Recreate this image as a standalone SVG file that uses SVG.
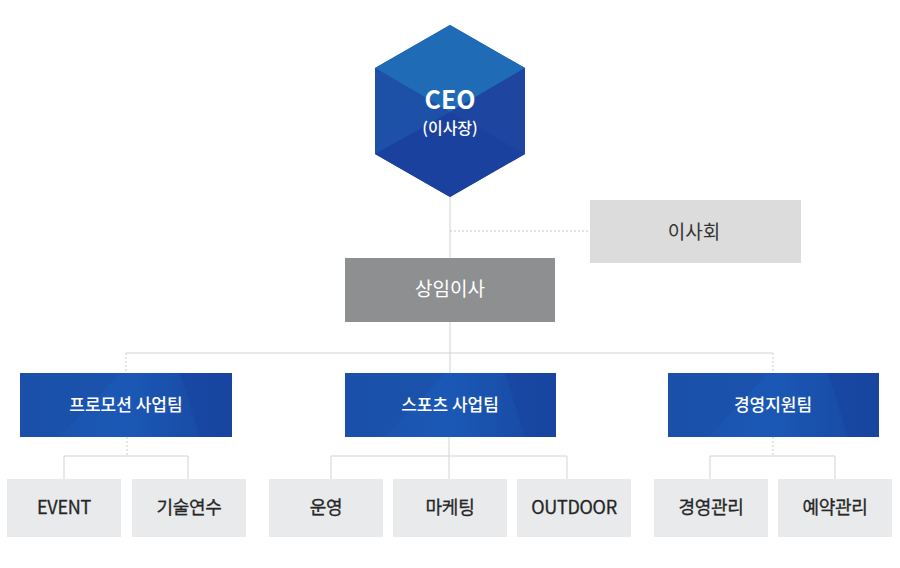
<svg xmlns="http://www.w3.org/2000/svg" width="900" height="568" viewBox="0 0 900 568">
<style>
.ln{stroke:#d2d3d5;stroke-width:1;fill:none}
.dt{stroke:#c9cacc;stroke-width:1;fill:none;stroke-dasharray:2 2}
.sub rect{fill:#e9eaec}
.sub text{font-family:"Noto Sans CJK KR","Noto Sans",sans-serif;font-size:18px;font-weight:normal;fill:#262626;text-anchor:middle;stroke:#262626;stroke-width:0.3px;letter-spacing:-0.3px}
.team text{font-family:"Noto Sans CJK KR","Noto Sans",sans-serif;font-size:17px;font-weight:500;fill:#fff;text-anchor:middle}
.gray text{font-family:"Noto Sans CJK KR","Noto Sans",sans-serif;font-size:19px;font-weight:normal;text-anchor:middle}
</style>
<defs>
<linearGradient id="tg" x1="0" y1="0" x2="1" y2="0">
<stop offset="0" stop-color="#1a52ac"/>
<stop offset="0.5" stop-color="#1b58b5"/>
<stop offset="1" stop-color="#1747a0"/>
</linearGradient>
</defs>
<g id="connectors">
<line class="ln" x1="450" y1="197" x2="450" y2="258"/>
<line class="dt" x1="450" y1="231" x2="590" y2="231"/>
<line class="ln" x1="450" y1="322" x2="450" y2="373"/>
<line class="ln" x1="126" y1="353" x2="773" y2="353"/>
<line class="dt" x1="126" y1="353" x2="126" y2="373"/>
<line class="dt" x1="773" y1="353" x2="773" y2="373"/>
<line class="dt" x1="127" y1="437" x2="127" y2="456"/>
<polyline class="ln" points="64,479 64,456 188,456 188,479"/>
<line class="ln" x1="449" y1="437" x2="449" y2="479"/>
<polyline class="ln" points="331,479 331,456 567,456 567,479"/>
<line class="dt" x1="773" y1="437" x2="773" y2="456"/>
<polyline class="ln" points="710,479 710,456 835,456 835,479"/>
</g>
<g id="ceo">
<polygon points="450,25 525,68 525,154 450,197 375,154 375,68" fill="#1c4ea6"/>
<polygon points="450,25 525,68 450,112 375,68" fill="#1f6bb6"/>
<polygon points="525,68 525,154 450,112" fill="#1e45a0"/>
<polygon points="375,154 450,112 525,154 450,197" fill="#1b419e"/>
<polygon points="375,68 450,112 375,154" fill="#1d51a8"/>
<text x="450" y="109" font-family="'Noto Sans CJK KR','Noto Sans',sans-serif" font-size="25" font-weight="bold" fill="#fff" text-anchor="middle">CEO</text>
<text x="450" y="134" font-family="'Noto Sans CJK KR','Noto Sans',sans-serif" font-size="16" font-weight="500" fill="#fff" text-anchor="middle">(이사장)</text>
</g>
<g id="board" class="gray">
<rect x="590" y="200" width="211" height="63" fill="#dcdcdd"/>
<text x="694" y="239" fill="#333">이사회</text>
</g>
<g id="director" class="gray">
<rect x="345" y="258" width="210" height="64" fill="#8e8f91"/>
<text x="450" y="296" fill="#fff">상임이사</text>
</g>
<g id="team-promotion" class="team">
<rect x="20" y="373" width="212" height="64" fill="url(#tg)"/>
<polygon points="20,373 120,373 60,437 20,437" fill="#1a4ea6" opacity="0.5"/>
<polygon points="180,373 232,373 232,437 200,437" fill="#1744a0" opacity="0.6"/>
<text x="126" y="411">프로모션 사업팀</text>
</g>
<g id="team-sports" class="team">
<rect x="345" y="373" width="211" height="64" fill="url(#tg)"/>
<polygon points="345,373 445,373 385,437 345,437" fill="#1a4ea6" opacity="0.5"/>
<polygon points="505,373 556,373 556,437 525,437" fill="#1744a0" opacity="0.6"/>
<text x="450" y="411">스포츠 사업팀</text>
</g>
<g id="team-support" class="team">
<rect x="668" y="373" width="211" height="64" fill="url(#tg)"/>
<polygon points="668,373 768,373 708,437 668,437" fill="#1a4ea6" opacity="0.5"/>
<polygon points="828,373 879,373 879,437 848,437" fill="#1744a0" opacity="0.6"/>
<text x="773" y="411">경영지원팀</text>
</g>
<g id="event" class="sub"><rect x="7" y="479" width="114" height="58"/><text x="64" y="514">EVENT</text></g>
<g id="training" class="sub"><rect x="132" y="479" width="114" height="58"/><text x="189" y="514">기술연수</text></g>
<g id="operation" class="sub"><rect x="269" y="479" width="114" height="58"/><text x="326" y="514">운영</text></g>
<g id="marketing" class="sub"><rect x="393" y="479" width="114" height="58"/><text x="450" y="514">마케팅</text></g>
<g id="outdoor" class="sub"><rect x="517" y="479" width="114" height="58"/><text x="574" y="514">OUTDOOR</text></g>
<g id="management" class="sub"><rect x="654" y="479" width="114" height="58"/><text x="711" y="514">경영관리</text></g>
<g id="reservation" class="sub"><rect x="778" y="479" width="114" height="58"/><text x="835" y="514">예약관리</text></g>
</svg>
